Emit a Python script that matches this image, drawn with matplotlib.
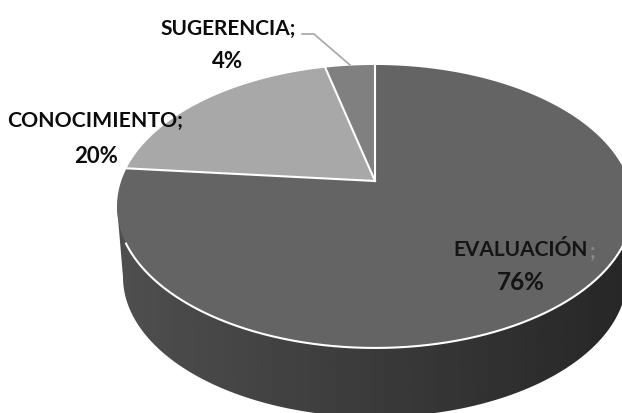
import numpy as np
import matplotlib
matplotlib.use("Agg")
import matplotlib.pyplot as plt
from matplotlib.patches import Polygon

categories = ["EVALUACIÓN", "CONOCIMIENTO", "SUGERENCIA"]
# slice sizes, the labels show them rounded
values = [76.5, 19.8, 3.7]
pct_labels = ["76%", "20%", "4%"]
slice_colors = ["#646464", "#a8a8a8", "#808080"]

plt.rcParams['font.family'] = ['Lato', 'DejaVu Sans']

fig = plt.figure(figsize=(6.22, 4.14), dpi=100)
ax = fig.add_axes([0, 0, 1, 1])
ax.set_xlim(0, 622)
ax.set_ylim(414, 0)
ax.axis("off")

# pie is tilted, so the centre of the circle sits above the middle of the ellipse
cx, cy = 375, 182
persp = 0.18
scale_x, scale_y = 253.8, 136.9


def project(theta):
    # theta clockwise from 12 o'clock, on the flat circle
    den = 1 + persp * np.cos(theta)
    return cx + scale_x * np.sin(theta) / den, cy - scale_y * np.cos(theta) / den


# side wall, dark gradient clipped to the outline
t = np.linspace(0, 2 * np.pi, 400)
top_x, top_y = project(t)
left = np.argmin(top_x)
right = np.argmax(top_x)
low_t = np.linspace(np.pi, 0, 200)
low_x = 375 + 252 * np.cos(low_t)
low_y = 278 + 140 * np.sin(low_t)
outline = np.column_stack([
    np.r_[top_x[left], low_x, top_x[right]],
    np.r_[top_y[left], low_y, top_y[right]],
])
clip = Polygon(outline, closed=True, fc="none", ec="none", transform=ax.transData)
ax.add_patch(clip)
grad = np.linspace(0.31, 0.15, 256).reshape(1, -1)
img = ax.imshow(grad, extent=[115, 635, 420, 150], cmap="gray", vmin=0, vmax=1,
                aspect="auto", zorder=1)
img.set_clip_path(clip)
ax.set_xlim(0, 622)
ax.set_ylim(414, 0)

# top face slices
start = 0.0
edges = []
for val, col in zip(values, slice_colors):
    end = start + val / sum(values) * 2 * np.pi
    th = np.linspace(start, end, 200)
    x, y = project(th)
    ax.fill(np.r_[cx, x], np.r_[cy, y], fc=col, ec="none", zorder=2)
    edges.append(end)
    start = end

# white lines between slices and along the front rim
for a in [0.0] + edges[:2]:
    x, y = project(np.array([a]))
    ax.plot([cx, x[0]], [cy, y[0]], color="white", lw=1.5, zorder=3)
rim = np.linspace(np.radians(100), np.radians(245), 300)
ax.plot(*project(rim), color="white", lw=1.5, zorder=3)

# leader line for the small slice
ax.plot([302, 314, 350], [35, 35, 66], color="#a6a6a6", lw=1.2, zorder=3)

# labels
font = dict(fontweight="bold", ha="center", va="center", zorder=4)
ax.text(521, 250, categories[0], color="#141414", fontsize=15, **font)
ax.text(593, 252, ";", color="#8a8a8a", fontsize=15, **font)
ax.text(521, 283, pct_labels[0], color="#141414", fontsize=17.5, **font)
ax.text(95, 121, categories[1] + ";", color="#0c0c0c", fontsize=15.3, **font)
ax.text(96, 157, pct_labels[1], color="#0c0c0c", fontsize=16, **font)
ax.text(228, 29, categories[2] + ";", color="#0c0c0c", fontsize=15, **font)
ax.text(228, 62, pct_labels[2], color="#0c0c0c", fontsize=16, **font)

fig.savefig("out.png", dpi=100)
